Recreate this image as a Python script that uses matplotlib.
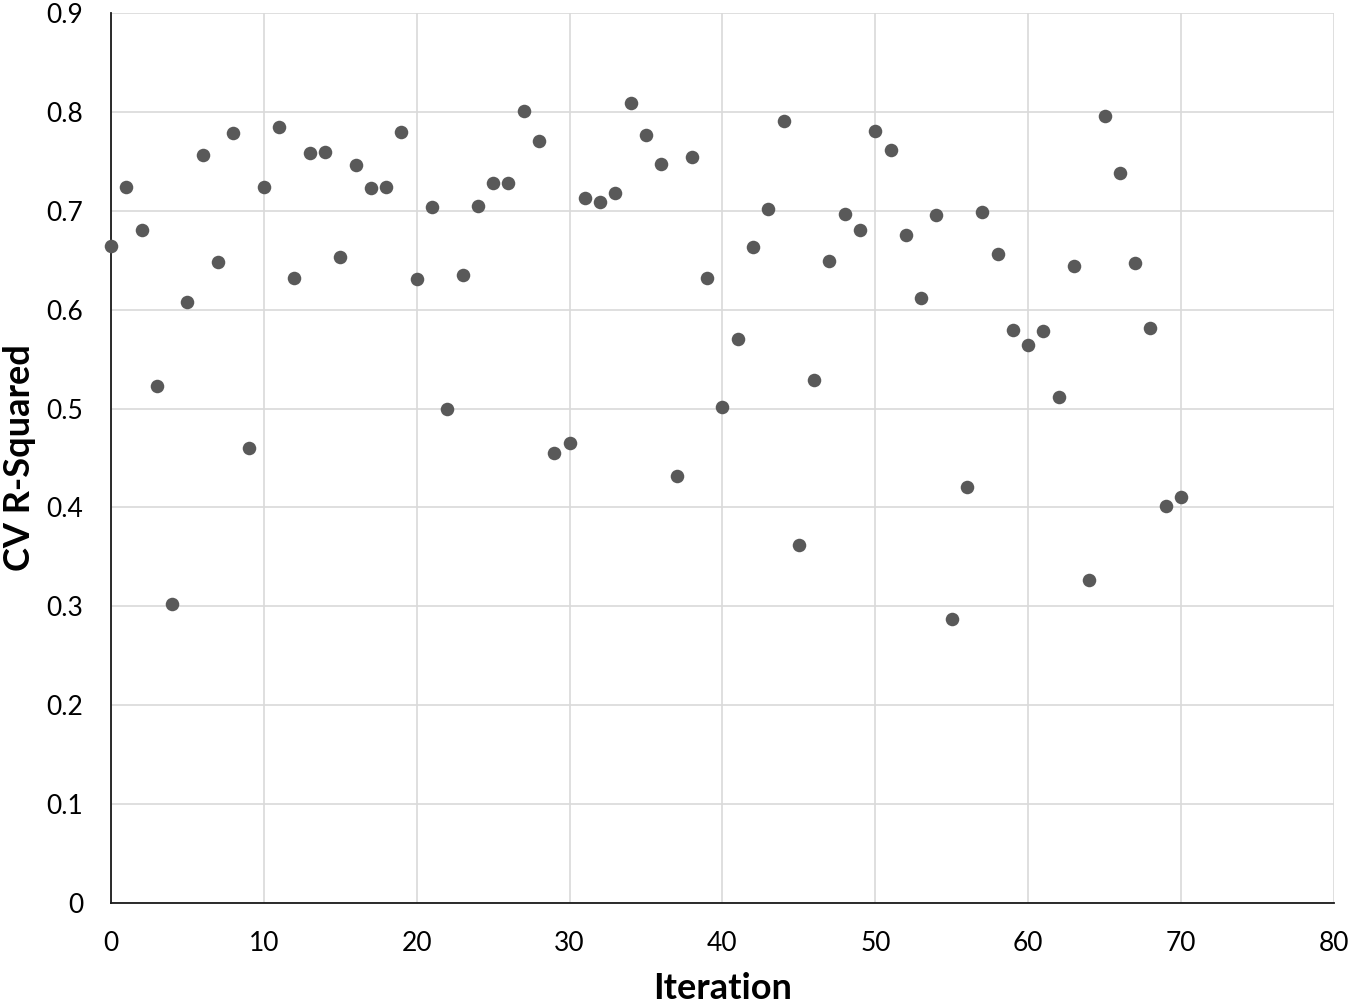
import numpy as np
import matplotlib.pyplot as plt

iterations = list(range(71))
cv_r2 = [
    0.664, 0.724, 0.681, 0.523, 0.302, 0.608, 0.756, 0.648, 0.779, 0.460,
    0.724, 0.785, 0.632, 0.758, 0.759, 0.653, 0.746, 0.723, 0.724, 0.780,
    0.631, 0.704, 0.500, 0.635, 0.705, 0.728, 0.728, 0.801, 0.771, 0.455,
    0.465, 0.713, 0.709, 0.718, 0.809, 0.777, 0.747, 0.432, 0.754, 0.632,
    0.502, 0.570, 0.663, 0.702, 0.791, 0.362, 0.529, 0.649, 0.697, 0.681,
    0.781, 0.762, 0.676, 0.612, 0.696, 0.287, 0.421, 0.699, 0.656, 0.579,
    0.564, 0.578, 0.512, 0.644, 0.327, 0.796, 0.738, 0.647, 0.582, 0.401,
    0.411,
]

plt.rcParams['font.family'] = ['Lato', 'DejaVu Sans']

fig = plt.figure(figsize=(13.5, 10.06), dpi=100)
ax = fig.add_axes([0.0822, 0.1024, 0.9059, 0.8846])

ax.scatter(iterations, cv_r2, s=95, color='#595959', zorder=3, linewidths=0, clip_on=False)

ax.set_xlim(0, 80)
ax.set_ylim(0, 0.9)
ax.set_xticks(np.arange(0, 81, 10))
ax.set_yticks(np.arange(0, 0.91, 0.1))
ax.set_yticklabels(['0'] + ['%.1f' % v for v in np.arange(0.1, 0.91, 0.1)])
ax.grid(True, color='#d9d9d9', linewidth=1.2)
ax.set_axisbelow(True)

for side in ['top', 'right']:
    ax.spines[side].set_visible(False)
ax.spines['left'].set_color('#1a1a1a')
ax.spines['bottom'].set_color('#1a1a1a')
ax.spines['left'].set_linewidth(1.3)
ax.spines['bottom'].set_linewidth(1.3)
ax.tick_params(axis='y', length=0, labelsize=19, colors='black', pad=20)
ax.tick_params(axis='x', length=0, labelsize=19, colors='black', pad=20)

ax.set_xlabel('Iteration', fontsize=26, fontweight='bold')
ax.set_ylabel('CV R-Squared', fontsize=26, fontweight='bold')
ax.xaxis.set_label_coords(0.5, -0.078)
ax.yaxis.set_label_coords(-0.061, 0.5)

plt.savefig('out.png')
